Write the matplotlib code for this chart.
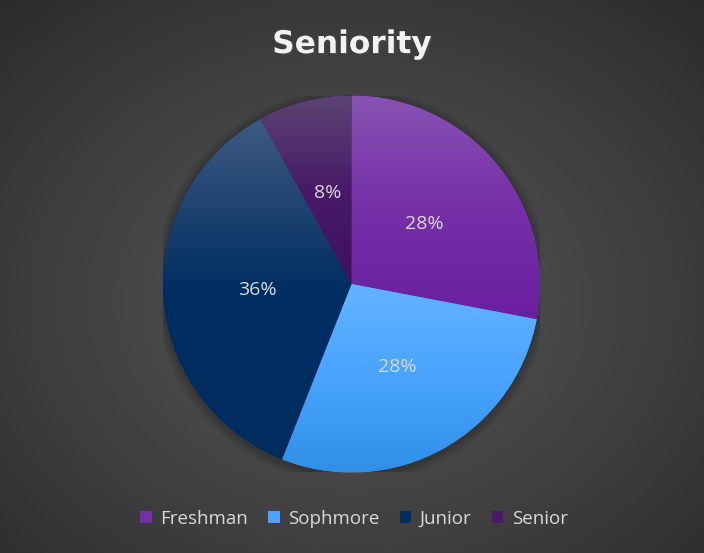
import numpy as np
import matplotlib.pyplot as plt
from matplotlib.patches import Patch, Circle
from matplotlib.colors import LinearSegmentedColormap
import matplotlib.patheffects as pe

plt.rcParams['font.family'] = ['Open Sans', 'DejaVu Sans']

categories = ['Freshman', 'Sophmore', 'Junior', 'Senior']
counts = [7, 7, 9, 2]
base_colors = ['#7530a8', '#48a4ff', '#012e62', '#481a68']
# top / middle / bottom stops of each slice gradient
grad_stops = [
    ['#8852b2', '#7530a8', '#6a1fa0'],
    ['#64b2ff', '#48a4ff', '#2f8fe6'],
    ['#3f5b82', '#012e62', '#002c60'],
    ['#5c4474', '#481a68', '#3e1060'],
]
title = 'Seniority'
text_color = '#d9d9d9'


def radial_background(fig):
    bg = fig.add_axes([0, 0, 1, 1], zorder=-10)
    bg.axis('off')
    yy, xx = np.mgrid[0:553, 0:704]
    cx, cy = 352, 300
    r = np.sqrt(((xx - cx) / 520.0) ** 2 + ((yy - cy) / 420.0) ** 2)
    r = np.clip(r, 0, 1)
    shade = 0.325 - 0.16 * r ** 1.3
    img = np.dstack([shade, shade, shade])
    bg.imshow(img, extent=[0, 1, 0, 1], aspect='auto', origin='upper')
    bg.set_xlim(0, 1)
    bg.set_ylim(0, 1)


def gradient_fill(ax, wedge, stops):
    cmap = LinearSegmentedColormap.from_list('g', stops)
    verts = wedge.get_path().vertices
    trans = wedge.get_patch_transform()
    pts = trans.transform(verts)
    x0, x1 = pts[:, 0].min(), pts[:, 0].max()
    y0, y1 = pts[:, 1].min(), pts[:, 1].max()
    grad = np.linspace(1, 0, 256).reshape(-1, 1)
    im = ax.imshow(grad, cmap=cmap, extent=[x0, x1, y0, y1], aspect='auto',
                   origin='lower', vmin=0, vmax=1, zorder=2)
    im.set_clip_path(wedge)


fig = plt.figure(figsize=(7.04, 5.53), dpi=100)
radial_background(fig)

ax = fig.add_axes([0.2315, 0.1456, 0.5355, 0.6817])
ax.set_facecolor('none')

# soft shadow behind pie
for i, a in enumerate([0.05, 0.05, 0.05, 0.06]):
    ax.add_patch(Circle((0.0, -0.01), 1.0 + 0.012 * (4 - i), color='black',
                        alpha=a, lw=0, zorder=0))

wedges, texts, autotexts = ax.pie(
    counts, colors=base_colors, startangle=90, counterclock=False,
    autopct='%1.0f%%', pctdistance=0.5, radius=1.0,
    wedgeprops=dict(linewidth=0, zorder=1),
    textprops=dict(color=text_color, fontsize=14))

for w, stops in zip(wedges, grad_stops):
    gradient_fill(ax, w, stops)
for t in autotexts:
    t.set_zorder(5)

ax.set_xlim(-1, 1)
ax.set_ylim(-1, 1)
ax.set_aspect('equal')
ax.axis('off')

fig.text(0.5, 0.904, title, ha='center', va='baseline', fontsize=22.5,
         fontweight='bold', color='#f2f2f2', family='DejaVu Sans',
         path_effects=[pe.SimplePatchShadow(offset=(1.5, -1.5), alpha=0.5),
                       pe.Normal()])

handles = [Patch(facecolor=c, edgecolor='none') for c in base_colors]
fig.legend(handles, categories, loc='center', bbox_to_anchor=(0.503, 0.0615),
           ncol=4, frameon=False, fontsize=13.5, labelcolor=text_color,
           handlelength=0.6, handleheight=0.6, handletextpad=0.45,
           columnspacing=1.1)

fig.savefig('out.png', dpi=100)
